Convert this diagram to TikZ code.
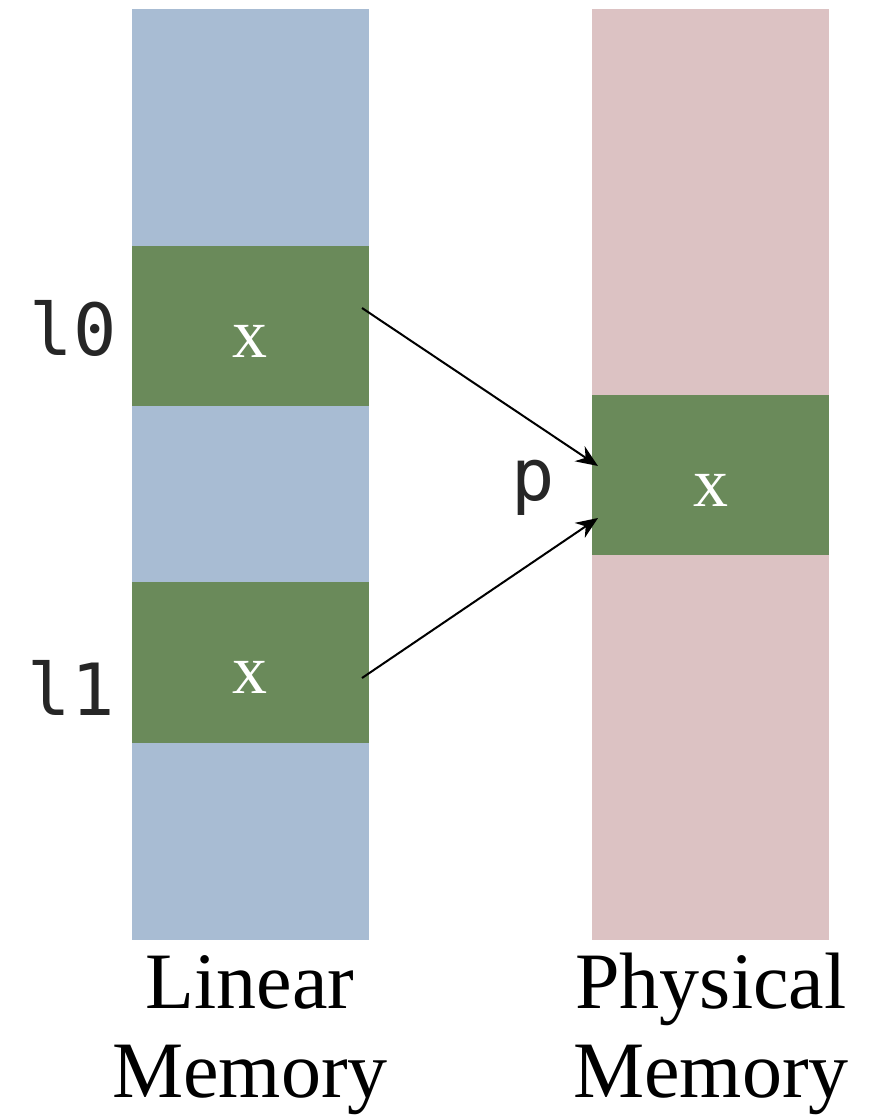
\documentclass[tikz,border=0pt]{standalone}
\usepackage{fontspec}
\setmainfont{Liberation Serif}
\newfontfamily\monof{DejaVu Sans Mono}
\usetikzlibrary{arrows.meta}
\definecolor{lblue}{HTML}{A8BCD3}
\definecolor{lgreen}{HTML}{6A8A5A}
\definecolor{lpink}{HTML}{DCC2C3}
\tikzset{
  blk/.style={anchor=north west, inner sep=0pt, outer sep=0pt, minimum width=237pt, draw=none},
  xlab/.style={anchor=base, text=white, font=\fontsize{70}{70}\selectfont},
  mlab/.style={anchor=base east, font=\monof\fontsize{72}{72}\selectfont, text=black!85},
  caplab/.style={anchor=base, font=\fontsize{80}{80}\selectfont},
  arr/.style={line width=2pt, -{Stealth[length=22pt, width=18pt]}}
}
\begin{document}
\begin{tikzpicture}[x=1pt,y=-1pt]
\useasboundingbox[fill=white] (0,0) rectangle (877,1117);
% columns
\node[blk, fill=lblue, minimum height=931pt] (lin) at (132,9) {};
\node[blk, fill=lpink, minimum height=931pt] (phy) at (592,9) {};
% green blocks
\node[blk, fill=lgreen, minimum height=160pt] (g0) at (132,246) {};
\node[blk, fill=lgreen, minimum height=161pt] (g1) at (132,582) {};
\node[blk, fill=lgreen, minimum height=160pt] (gp) at (592,395) {};
% x labels
\node[xlab] (x0) at (250,357) {x};
\node[xlab] (x1) at (250,693) {x};
\node[xlab] (xp) at (711,506) {x};
% mono labels
\node[mlab] (l0) at (120,355) {l0};
\node[mlab] (l1) at (118,715) {l1};
\node[mlab] (p) at (558,500) {p};
% captions
\node[caplab] (c1) at (250,1008) {Linear};
\node[caplab] (c2) at (250,1097) {Memory};
\node[caplab] (c3) at (711,1008) {Physical};
\node[caplab] (c4) at (711,1097) {Memory};
% arrows
\draw[arr] ([shift={(-7pt,-62pt)}]g0.north east) -- ([shift={(6pt,-71pt)}]gp.north west);
\draw[arr] ([shift={(-7pt,-96pt)}]g1.north east) -- ([shift={(6pt,-123pt)}]gp.north west);
\end{tikzpicture}
\end{document}
